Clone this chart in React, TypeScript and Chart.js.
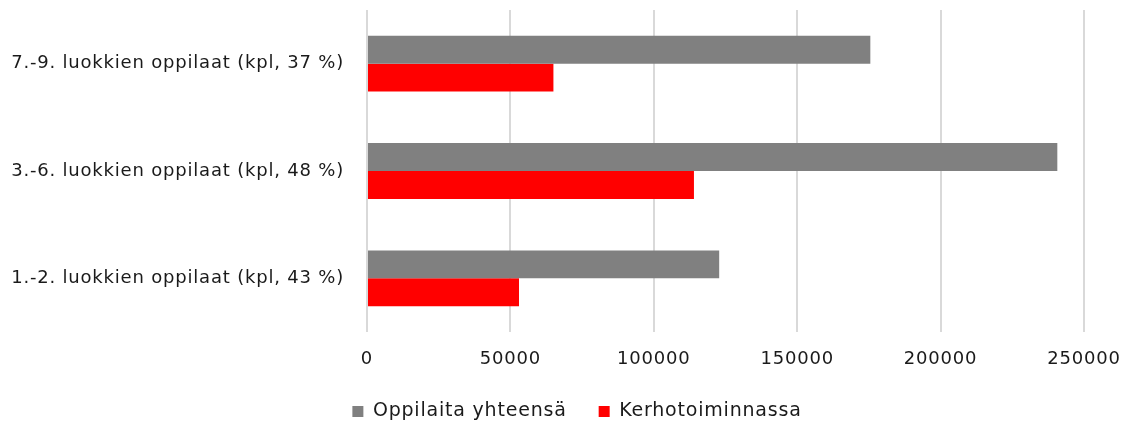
import React, { useEffect, useRef } from "react";
import { Chart, registerables } from "chart.js";

Chart.register(...registerables);

const categories: string[] = [
  "7.-9. luokkien oppilaat (kpl, 37 %)",
  "3.-6. luokkien oppilaat (kpl, 48 %)",
  "1.-2. luokkien oppilaat (kpl, 43 %)",
];
const totalLabel = "Oppilaita yhteensä";
const clubLabel = "Kerhotoiminnassa";
const totalValues: number[] = [175500, 240700, 122800];
const clubValues: number[] = [65000, 114000, 53000];
const xTicks: number[] = [0, 50000, 100000, 150000, 200000, 250000];

const FONT = "'DejaVu Sans', sans-serif";
const SPACING = "0.8px";

const spacingPlugin = {
  id: "letterSpacing",
  beforeUpdate(chart: any) {
    chart.ctx.letterSpacing = SPACING;
  },
  afterLayout(chart: any) {
    const lg = chart.legend;
    if (lg) {
      lg.left += 16;
      lg.right += 16;
    }
  },
  beforeDraw(chart: any) {
    chart.ctx.letterSpacing = SPACING;
  },
};

export default function App() {
  const ref = useRef<HTMLCanvasElement | null>(null);
  useEffect(() => {
    if (!ref.current) return;
    const chart = new Chart(ref.current, {
      type: "bar",
      plugins: [spacingPlugin],
      data: {
        labels: categories,
        datasets: [
          {
            label: totalLabel,
            data: totalValues,
            backgroundColor: "#808080",
            borderWidth: 0,
            categoryPercentage: 0.52,
            barPercentage: 1,
          },
          {
            label: clubLabel,
            data: clubValues,
            backgroundColor: "#ff0000",
            borderWidth: 0,
            categoryPercentage: 0.52,
            barPercentage: 1,
          },
        ],
      },
      options: {
        indexAxis: "y",
        animation: false,
        responsive: true,
        maintainAspectRatio: false,
        layout: { padding: { top: 10, right: 0, left: 0, bottom: -3 } },
        plugins: {
          tooltip: { enabled: false },
          legend: {
            position: "bottom",
            labels: {
              boxWidth: 11,
              boxHeight: 11,
              padding: 32,
              color: "#1a1a1a",
              font: { family: FONT, size: 19 },
            },
          },
        },
        scales: {
          x: {
            min: 0,
            max: 250000,
            afterBuildTicks: (scale: any) => {
              scale.ticks = xTicks.map((v) => ({ value: v }));
            },
            afterFit: (scale: any) => {
              scale.height = 38;
              scale.paddingRight = 38;
              scale.paddingLeft = 0;
            },
            grid: { color: "#d9d9d9", lineWidth: 2, drawTicks: false },
            border: { display: false },
            ticks: {
              padding: 17,
              color: "#1a1a1a",
              font: { family: FONT, size: 18 },
              maxRotation: 0,
              callback: (v: any) => String(v),
            },
          },
          y: {
            afterFit: (scale: any) => {
              scale.width = 367;
              scale.paddingTop = 0;
              scale.paddingBottom = 0;
            },
            grid: { display: false, drawTicks: false },
            border: { display: false },
            ticks: {
              padding: 23,
              color: "#1a1a1a",
              font: { family: FONT, size: 18 },
            },
          },
        },
      },
    });
    return () => chart.destroy();
  }, []);
  return (
    <div style={{ position: "fixed", left: 0, top: 0, width: 1122, height: 428, background: "#fff" }}>
      <canvas ref={ref} />
    </div>
  );
}
